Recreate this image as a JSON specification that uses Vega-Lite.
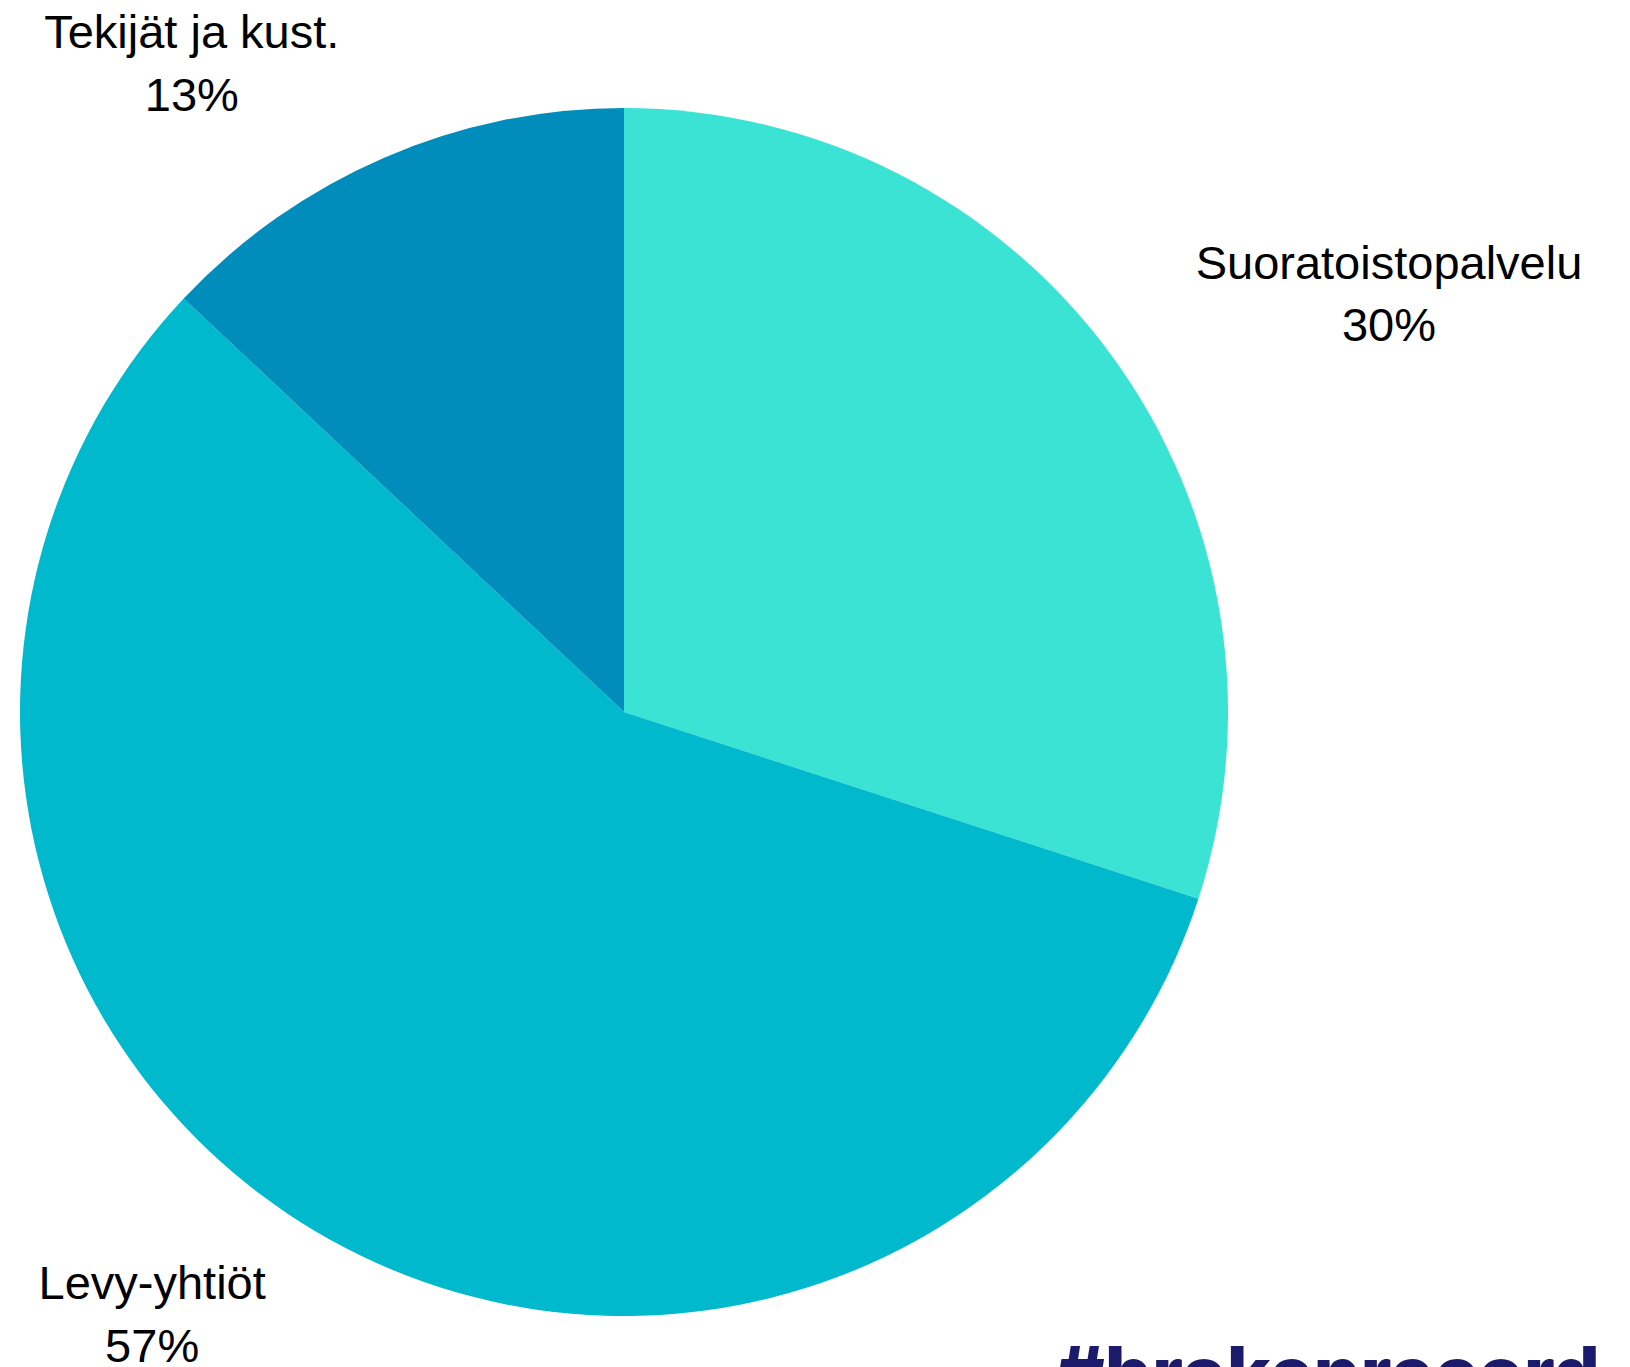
{
  "$schema": "https://vega.github.io/schema/vega-lite/v6.json",
  "autosize": {"type": "none"},
  "width": 1208,
  "height": 1208,
  "padding": {"left": 20, "top": 108, "right": 402, "bottom": 51},
  "background": "white",
  "config": {"view": {"stroke": null}},
  "title": {
    "text": "#brokenrecord",
    "orient": "bottom",
    "anchor": "end",
    "frame": "group",
    "align": "right",
    "baseline": "alphabetic",
    "offset": -140,
    "dx": 372,
    "font": "Inter",
    "fontWeight": 800,
    "fontSize": 74,
    "color": "#1b1a6b"
  },
  "data": {
    "values": [
      {"name": "Suoratoistopalvelu", "value": 30, "ord": 1, "label": "Suoratoistopalvelu\n30%"},
      {"name": "Levy-yhtiöt", "value": 57, "ord": 2, "label": "Levy-yhtiöt\n57%"},
      {"name": "Tekijät ja kust.", "value": 13, "ord": 3, "label": "Tekijät ja kust.\n13%"}
    ]
  },
  "encoding": {
    "theta": {"field": "value", "type": "quantitative", "stack": true},
    "order": {"field": "ord", "type": "quantitative"}
  },
  "layer": [
    {
      "mark": {"type": "arc"},
      "encoding": {
        "color": {
          "field": "name",
          "type": "nominal",
          "scale": {
            "domain": ["Suoratoistopalvelu", "Levy-yhtiöt", "Tekijät ja kust."],
            "range": ["#3ae3d4", "#00b9cc", "#008dbb"]
          },
          "legend": null
        }
      }
    },
    {
      "mark": {"type": "text", "radius": 864, "dx": 66, "dy": 61, "font": "Liberation Sans", "fontSize": 47, "lineBreak": "\n", "lineHeight": 62, "align": "center", "baseline": "middle", "color": "#000000"},
      "encoding": {
        "text": {"condition": {"test": "datum.name === 'Suoratoistopalvelu'", "field": "label"}, "value": ""}
      }
    },
    {
      "mark": {"type": "text", "radius": 758, "dx": -86, "dy": -79, "font": "Liberation Sans", "fontSize": 47, "lineBreak": "\n", "lineHeight": 63, "align": "center", "baseline": "middle", "color": "#000000"},
      "encoding": {
        "text": {"condition": {"test": "datum.name === 'Levy-yhtiöt'", "field": "label"}, "value": ""}
      }
    },
    {
      "mark": {"type": "text", "radius": 766, "dx": -128, "dy": 25, "font": "Liberation Sans", "fontSize": 47, "lineBreak": "\n", "lineHeight": 63, "align": "center", "baseline": "middle", "color": "#000000"},
      "encoding": {
        "text": {"condition": {"test": "datum.name === 'Tekijät ja kust.'", "field": "label"}, "value": ""}
      }
    }
  ]
}
